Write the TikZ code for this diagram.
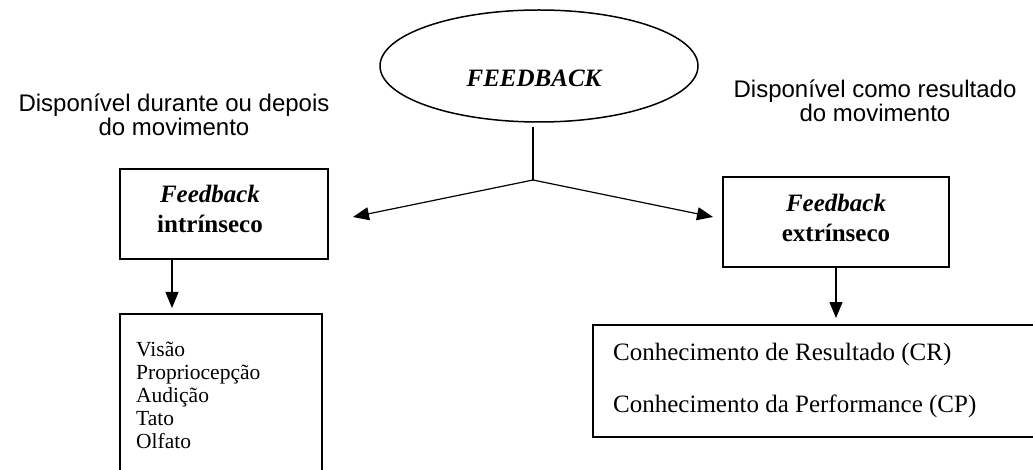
\documentclass[tikz,border=0pt]{standalone}
\usepackage{fontspec}
\setmainfont{Liberation Serif}
\setsansfont{Liberation Sans}
\usetikzlibrary{arrows.meta,shapes.geometric}
\begin{document}
\begin{tikzpicture}[x=1pt,y=-1pt,
  box/.style={draw,line width=1.3pt,rectangle,inner sep=0pt},
  conn/.style={line width=1.2pt},
  arr/.style={line width=1.2pt,-{Triangle[length=16pt,width=13pt]}},
  lbl/.style={font=\sffamily\fontsize{24}{24}\selectfont,align=center,inner sep=0pt},
  btxt/.style={font=\fontsize{25}{30}\selectfont\bfseries,align=center,inner sep=0pt},
  ltxt/.style={font=\fontsize{21.5}{23}\selectfont,align=left,inner sep=0pt,anchor=north west},
  rtxt/.style={font=\fontsize{25}{30}\selectfont,inner sep=0pt,anchor=base west}]
\useasboundingbox (0,0) rectangle (1033,470);
% ellipse
\node[draw,ellipse,line width=1.5pt,minimum width=318pt,minimum height=112pt,inner sep=0pt] (fb) at (539,66) {};
\node[font=\fontsize{25}{30}\selectfont\bfseries\itshape,inner sep=0pt,anchor=base] (fbt) at (534,87) {FEEDBACK};
% labels
\node[lbl] (ll) at (174,115) {Disponível durante ou depois\\do movimento};
\node[lbl] (rl) at (875,101) {Disponível como resultado\\do movimento};
% boxes
\node[box,minimum width=208pt,minimum height=90pt] (ib) at (224,214) {};
\node[btxt,anchor=base] (ibt1) at (210,203) {\itshape Feedback};
\node[btxt,anchor=base] (ibt2) at (210,233) {intrínseco};
\node[box,minimum width=226pt,minimum height=90pt] (eb) at (836,222) {};
\node[btxt,anchor=base] (ebt1) at (836,212) {\itshape Feedback};
\node[btxt,anchor=base] (ebt2) at (836,242) {extrínseco};
\node[box,minimum width=202pt,minimum height=166pt] (sb) at (221,397) {};
\node[ltxt] (st) at (136,342) {Visão\\Propriocepção\\Audição\\Tato\\Olfato};
\node[box,minimum width=452pt,minimum height=112pt] (cb) at (819,381) {};
\node[rtxt] (cr) at (613,360) {Conhecimento de Resultado (CR)};
\node[rtxt] (cp) at (613,412) {Conhecimento da Performance (CP)};
% connectors
\coordinate (jt) at (533,127);
\coordinate (j) at (533,180);
\coordinate (la) at (353,217);
\coordinate (ra) at (713,217);
\coordinate (ld) at (172,308);
\coordinate (ls) at (172,259);
\coordinate (rd) at (836,318);
\draw[conn] (jt) -- (j);
\draw[arr] (j) -- (la);
\draw[arr] (j) -- (ra);
\draw[arr] (ls) -- (ld);
\draw[arr] (eb.south) -- (rd);
\end{tikzpicture}
\end{document}
